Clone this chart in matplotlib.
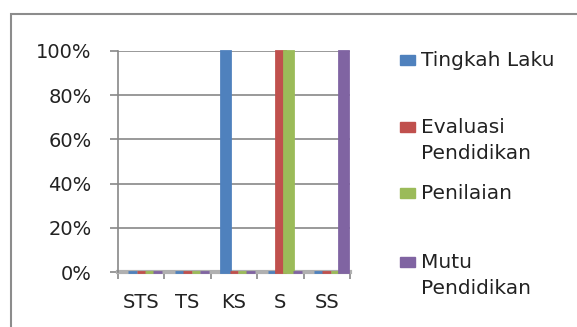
import matplotlib.pyplot as plt
from matplotlib.patches import Rectangle
import numpy as np

categories = ['STS', 'TS', 'KS', 'S', 'SS']
tingkahLaku = [0, 0, 100, 0, 0]
evaluasi = [0, 0, 0, 100, 0]
penilaian = [0, 0, 0, 100, 0]
mutu = [0, 0, 0, 0, 100]
seriesNames = ['Tingkah Laku', 'Evaluasi\nPendidikan', 'Penilaian', 'Mutu\nPendidikan']
seriesColors = ['#4F81BD', '#C0504D', '#9BBB59', '#8064A2']

plt.rcParams['font.family'] = ['DejaVu Sans']

W, H = 577, 327
fig = plt.figure(figsize=(W / 100, H / 100), dpi=100)

# outer chart border (goes off right and bottom edge)
fig.patches.append(Rectangle((11 / W, -0.1), 1.2, 1 - 14 / H + 0.1, transform=fig.transFigure,
                             fill=False, edgecolor='#8c8c8c', linewidth=1.5))

ax = fig.add_axes([118 / W, 1 - 272 / H, 232 / W, 221 / H])

x = np.arange(len(categories))
offsets = [-0.18, 0.0, 0.18, 0.36]
width = 0.19
allSeries = [tingkahLaku, evaluasi, penilaian, mutu]
for vals, off, col in zip(allSeries, offsets, seriesColors):
    ax.bar(x + off, vals, width, color=col, edgecolor=col, linewidth=2, zorder=3, clip_on=False)

ax.set_xlim(-0.5, 4.5)
ax.set_ylim(0, 100)
ax.set_yticks(np.arange(0, 101, 20))
ax.set_yticklabels(['%d%%' % v for v in range(0, 101, 20)], fontsize=14, color='#222222')
ax.set_xticks(x)
ax.set_xticklabels(categories, fontsize=14, color='#222222')
ax.set_xticks(np.arange(-0.5, 5, 1), minor=True)
ax.tick_params(axis='x', which='major', length=0, pad=15)
ax.tick_params(axis='x', which='minor', length=5, color='#888888', width=1.2)
ax.tick_params(axis='y', length=6, color='#888888', width=1.2, pad=13)

ax.grid(axis='y', color='#888888', linewidth=1.2, zorder=0)
for s in ['top', 'right']:
    ax.spines[s].set_visible(False)
ax.spines['left'].set_color('#888888')
ax.spines['left'].set_linewidth(1.2)
ax.spines['bottom'].set_color('#b0b0b0')
ax.spines['bottom'].set_linewidth(3)
ax.spines['bottom'].set_zorder(2)

# legend drawn by hand
legendY = [60, 127, 193, 262]
for name, col, ly in zip(seriesNames, seriesColors, legendY):
    fig.patches.append(Rectangle((400 / W, 1 - (ly + 5) / H), 15 / W, 10 / H,
                                 transform=fig.transFigure, color=col))
    fig.text(421 / W, 1 - (ly - 9) / H, name, fontsize=14.5, color='#222222',
             va='top', ha='left', linespacing=1.45)

fig.savefig('out.png', dpi=100)
